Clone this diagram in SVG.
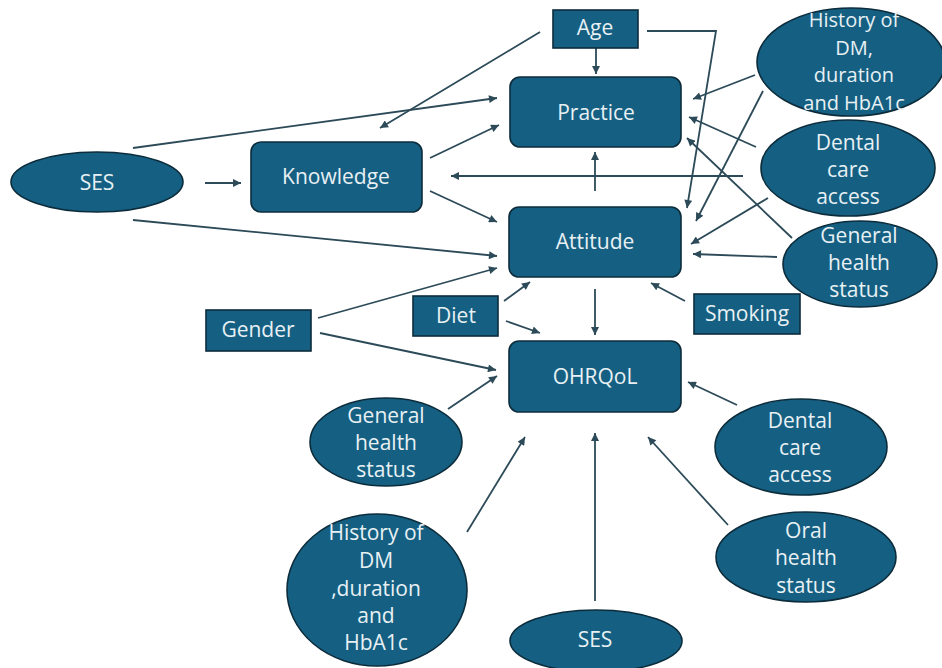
<svg xmlns="http://www.w3.org/2000/svg" width="942" height="668" viewBox="0 0 942 668">
<style>
.n{fill:#156082;stroke:#0c2c3c;stroke-width:1.6}
.t{font-family:"Open Sans","Noto Sans","Liberation Sans",sans-serif;font-size:21px;fill:#e8f0f4;text-anchor:middle}
.s{font-size:20px}
.c{fill:none;stroke:#2c4a58;stroke-width:1.8;marker-end:url(#a)}
</style>
<defs>
<marker id="a" viewBox="0 0 10 10" refX="10" refY="5" markerUnits="userSpaceOnUse" markerWidth="9" markerHeight="8" orient="auto">
<path d="M0,0 L10,5 L0,10 z" fill="#2c4a58"/>
</marker>
</defs>
<rect width="942" height="668" fill="#ffffff"/>
<g id="connectors">
<line class="c" x1="133" y1="148" x2="497" y2="98"/>
<line class="c" x1="540" y1="32" x2="380" y2="128"/>
<line class="c" x1="205" y1="183" x2="241" y2="183"/>
<line class="c" x1="430" y1="158" x2="499" y2="125"/>
<line class="c" x1="430" y1="191" x2="497" y2="222"/>
<line class="c" x1="133" y1="220" x2="497" y2="256"/>
<line class="c" x1="318" y1="318" x2="497" y2="268"/>
<line class="c" x1="320" y1="333" x2="496" y2="370"/>
<line class="c" x1="448" y1="409" x2="497" y2="376"/>
<line class="c" x1="504" y1="301" x2="530" y2="282"/>
<line class="c" x1="506" y1="321" x2="540" y2="333"/>
<line class="c" x1="595" y1="289" x2="595" y2="335"/>
<line class="c" x1="685" y1="301" x2="651" y2="283"/>
<line class="c" x1="737" y1="405" x2="688" y2="382"/>
<line class="c" x1="728" y1="525" x2="648" y2="437"/>
<line class="c" x1="595" y1="601" x2="595" y2="433"/>
<line class="c" x1="467" y1="532" x2="525" y2="437"/>
<line class="c" x1="596" y1="48" x2="596" y2="74"/>
<line class="c" x1="595" y1="191" x2="595" y2="152"/>
<polyline class="c" points="647,31 716,31 687,208"/>
<line class="c" x1="755" y1="75" x2="693" y2="99"/>
<line class="c" x1="763" y1="91" x2="696" y2="221"/>
<line class="c" x1="756" y1="147" x2="689" y2="117"/>
<line class="c" x1="743" y1="176" x2="451" y2="176"/>
<line class="c" x1="768" y1="198" x2="691" y2="244"/>
<line class="c" x1="792" y1="238" x2="687" y2="138"/>
<line class="c" x1="777" y1="257" x2="693" y2="254"/>
</g>
<g id="age"><rect class="n" x="553" y="10" width="85" height="38"/><text class="t" x="595" y="35">Age</text></g>
<g id="practice"><rect class="n" x="510" y="77" width="171" height="70" rx="10"/><text class="t" x="596" y="120">Practice</text></g>
<g id="attitude"><rect class="n" x="509" y="207" width="172" height="70" rx="10"/><text class="t" x="595" y="249">Attitude</text></g>
<g id="ohrqol"><rect class="n" x="509" y="341" width="172" height="71" rx="10"/><text class="t" x="595" y="384">OHRQoL</text></g>
<g id="knowledge"><rect class="n" x="251" y="142" width="171" height="70" rx="10"/><text class="t" x="336" y="184">Knowledge</text></g>
<g id="ses-left"><ellipse class="n" cx="97" cy="182" rx="86" ry="30"/><text class="t" x="97" y="190">SES</text></g>
<g id="gender"><rect class="n" x="206" y="310" width="105" height="41"/><text class="t" x="258" y="337">Gender</text></g>
<g id="diet"><rect class="n" x="413" y="296" width="85" height="40"/><text class="t" x="456" y="323">Diet</text></g>
<g id="smoking"><rect class="n" x="694" y="294" width="106" height="40"/><text class="t" x="747" y="321">Smoking</text></g>
<g id="history-top"><ellipse class="n" cx="851" cy="62" rx="94" ry="54"/>
<text class="t s" x="854" y="27">History of</text><text class="t s" x="854" y="54.5">DM,</text><text class="t s" x="854" y="82">duration</text><text class="t s" x="854" y="109.5">and HbA1c</text></g>
<g id="dental-top"><ellipse class="n" cx="848" cy="168" rx="87" ry="48"/>
<text class="t" x="848" y="150">Dental</text><text class="t" x="848" y="177">care</text><text class="t" x="848" y="204">access</text></g>
<g id="general-right"><ellipse class="n" cx="860" cy="264" rx="77" ry="43"/>
<text class="t" x="859" y="243">General</text><text class="t" x="859" y="270">health</text><text class="t" x="859" y="297">status</text></g>
<g id="general-left"><ellipse class="n" cx="386" cy="442" rx="76" ry="44"/>
<text class="t" x="386" y="423">General</text><text class="t" x="386" y="450">health</text><text class="t" x="386" y="477">status</text></g>
<g id="history-bottom"><ellipse class="n" cx="377" cy="590" rx="90" ry="76"/>
<text class="t" x="376" y="540">History of</text><text class="t" x="376" y="568">DM</text><text class="t" x="376" y="596">,duration</text><text class="t" x="376" y="623">and</text><text class="t" x="376" y="650">HbA1c</text></g>
<g id="ses-bottom"><ellipse class="n" cx="596" cy="641" rx="86" ry="31"/><text class="t" x="595" y="647">SES</text></g>
<g id="dental-bottom"><ellipse class="n" cx="801" cy="447" rx="86" ry="48"/>
<text class="t" x="800" y="428">Dental</text><text class="t" x="800" y="455">care</text><text class="t" x="800" y="482">access</text></g>
<g id="oral"><ellipse class="n" cx="806" cy="557" rx="90" ry="45"/>
<text class="t" x="806" y="538">Oral</text><text class="t" x="806" y="565">health</text><text class="t" x="806" y="593">status</text></g>
</svg>
